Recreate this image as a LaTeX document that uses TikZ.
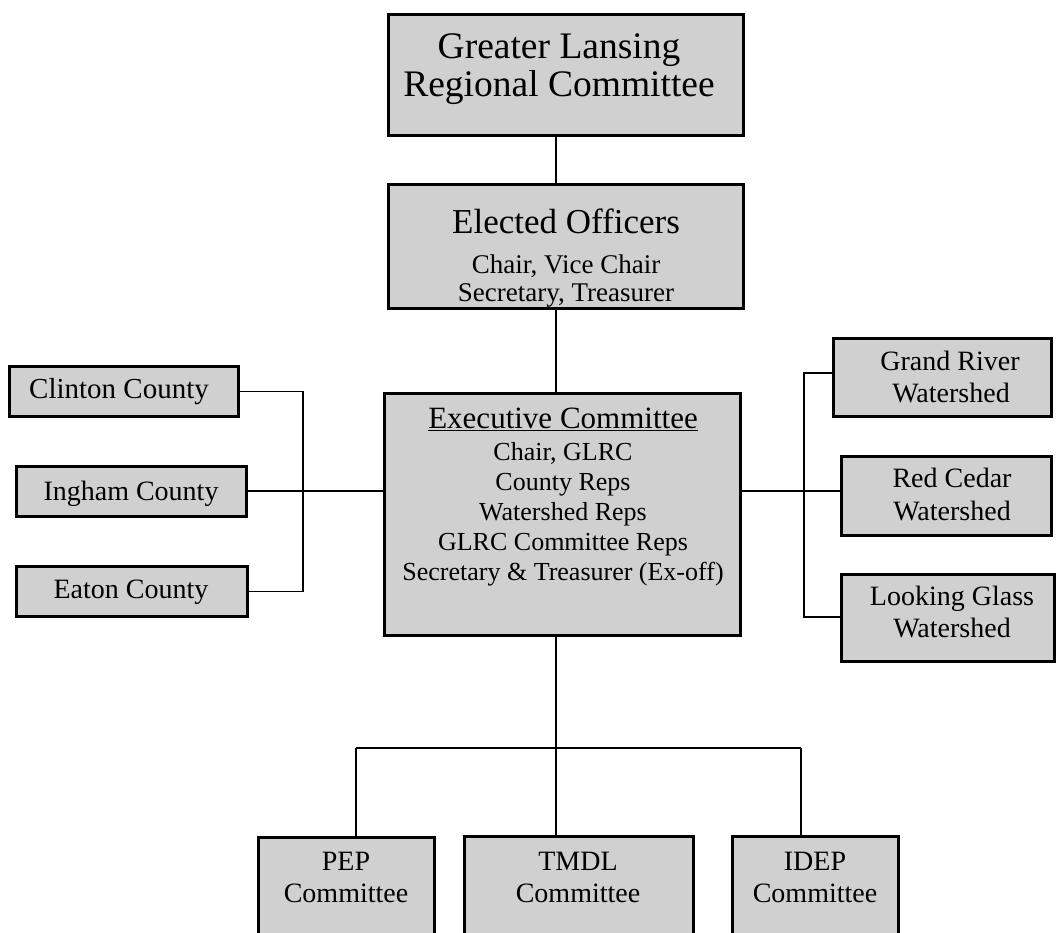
\documentclass[tikz,border=0pt]{standalone}
\usepackage{fontspec}
\setmainfont{Liberation Serif}
\definecolor{boxgray}{RGB}{208,208,208}
\tikzset{
  box/.style={draw=black, line width=2.8pt, fill=boxgray, inner sep=0pt, rectangle},
  conn/.style={draw=black, line width=1.3pt},
  txt/.style={anchor=base, inner sep=0pt, text=black}
}
\newcommand\mkbox[5]{\node[box, minimum width={#4pt-#2pt-2.8pt}, minimum height={#5pt-#3pt-2.8pt}] (#1) at ({(#2+#4)/2},{(#3+#5)/2}) {};}
\newcommand\mktext[5]{\node[txt, font=\fontsize{#2}{#2}\selectfont] (#1) at (#3,#4) {#5};}
\begin{document}
\begin{tikzpicture}[x=1pt, y=-1pt]
\useasboundingbox (0,0) rectangle (1056,932);
\clip (0,0) rectangle (1056,932);
\fill[white] (0,0) rectangle (1056,932);

% boxes
\mkbox{glrc}{387}{13}{745}{137}
\mkbox{elec}{387}{183}{745}{310}
\mkbox{exec}{383}{392}{742}{637}
\mkbox{clin}{8}{365}{240}{418}
\mkbox{ingh}{15}{465}{248}{518}
\mkbox{eato}{15}{565}{249}{618}
\mkbox{gran}{832}{337}{1053}{418}
\mkbox{redc}{840}{455}{1053}{537}
\mkbox{look}{840}{573}{1056}{663}
\mkbox{pep}{257}{836}{436}{960}
\mkbox{tmdl}{463}{835}{695}{960}
\mkbox{idep}{731}{835}{900}{960}

% texts
\mktext{glrc1}{37.5}{559}{58}{Greater Lansing}
\mktext{glrc2}{37.5}{559}{96}{Regional Committee}
\mktext{elec1}{35}{566}{233}{Elected Officers}
\mktext{elec2}{27}{566}{273}{Chair, Vice Chair}
\mktext{elec3}{27}{566}{301}{Secretary, Treasurer}
\mktext{exec1}{31}{563}{428}{\underline{Executive Committee}}
\mktext{exec2}{26}{563}{460}{Chair, GLRC}
\mktext{exec3}{26}{563}{490}{County Reps}
\mktext{exec4}{26}{563}{520}{Watershed Reps}
\mktext{exec5}{26}{563}{550}{GLRC Committee Reps}
\mktext{exec6}{26}{563}{580}{Secretary \& Treasurer (Ex-off)}
\mktext{clint}{29}{119}{398}{Clinton County}
\mktext{inght}{28}{131}{500}{Ingham County}
\mktext{eatot}{28}{131}{598}{Eaton County}
\mktext{gran1}{28}{950}{370}{Grand River}
\mktext{gran2}{28}{951}{402}{Watershed}
\mktext{redc1}{28}{952}{487}{Red Cedar}
\mktext{redc2}{28}{952}{520}{Watershed}
\mktext{look1}{28}{952}{605}{Looking Glass}
\mktext{look2}{28}{952}{637}{Watershed}
\mktext{pep1}{28}{346}{870}{PEP}
\mktext{pep2}{28}{346}{902}{Committee}
\mktext{tmdl1}{28}{578}{870}{TMDL}
\mktext{tmdl2}{28}{578}{902}{Committee}
\mktext{idep1}{28}{815}{870}{IDEP}
\mktext{idep2}{28}{815}{902}{Committee}

% helper coordinates
\coordinate (sp) at (556,0);
\coordinate (lbus) at (303,0);
\coordinate (rbus) at (804,0);
\coordinate (mid) at (0,491);
\coordinate (grl) at (0,373);
\coordinate (lgl) at (0,617);
\coordinate (bar) at (0,748);
\coordinate (pepx) at (356,0);
\coordinate (idepx) at (801,0);

% connectors
\draw[conn] (glrc.south -| sp) -- (elec.north -| sp);
\draw[conn] (elec.south -| sp) -- (exec.north -| sp);
\draw[conn] (clin.east) -- (clin.east -| lbus) -- (eato.east -| lbus) -- (eato.east);
\draw[conn] (ingh.east |- mid) -- (exec.west |- mid);
\draw[conn] (exec.east |- mid) -- (redc.west |- mid);
\draw[conn] (gran.west |- grl) -- (rbus |- grl) -- (rbus |- lgl) -- (look.west |- lgl);
\draw[conn] (exec.south -| sp) -- (sp |- bar);
\draw[conn] (pepx |- bar) -- (idepx |- bar);
\draw[conn] (pepx |- bar) -- (pep.north -| pepx);
\draw[conn] (sp |- bar) -- (tmdl.north -| sp);
\draw[conn] (idepx |- bar) -- (idep.north -| idepx);
\end{tikzpicture}
\end{document}
